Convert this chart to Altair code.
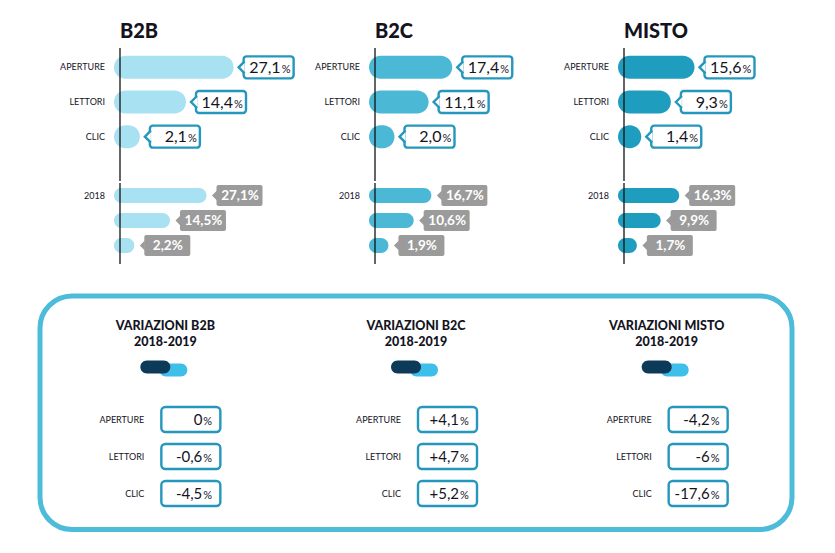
import altair as alt
import pandas as pd

FONT = "Lato"
INK = "#14141f"
TEAL = "#2597bd"
GRAY = "#9b9b9b"
BOX = "#4dbcd9"

metrics = ["APERTURE", "LETTORI", "CLIC"]
segments = ["B2B", "B2C", "MISTO"]

b2b_2019 = [27.1, 14.4, 2.1]
b2c_2019 = [17.4, 11.1, 2.0]
misto_2019 = [15.6, 9.3, 1.4]

b2b_2018 = [27.1, 14.5, 2.2]
b2c_2018 = [16.7, 10.6, 1.9]
misto_2018 = [16.3, 9.9, 1.7]

b2b_var = [0, -0.6, -4.5]
b2c_var = [4.1, 4.7, 5.2]
misto_var = [-4.2, -6, -17.6]

bar_colors = ["#a7e1f2", "#4bb9d5", "#1f9dbf"]
var_titles = ["VARIAZIONI B2B\n2018-2019", "VARIAZIONI B2C\n2018-2019", "VARIAZIONI MISTO\n2018-2019"]


def f1(v):
    return f"{v:.1f}".replace(".", ",")


def fvar(v):
    if v == 0:
        return "0"
    s = f"{abs(v):.1f}"
    if s.endswith(".0"):
        s = s[:-2]
    return ("+" if v > 0 else "-") + s.replace(".", ",")


H19 = 104
H18 = 75
GAP = 27
START = -4.8  # bar start (rounded cap) in value units
K19 = 3.75    # px per point, 2019
K18 = 2.9     # px per point, 2018


def top_column(seg, vals19, vals18, color, pad, W):
    d19 = pd.DataFrame({"metric": metrics, "value": vals19, "num": [f1(v) for v in vals19]})
    d18 = pd.DataFrame({"metric": metrics, "value": vals18, "label": [f1(v) + "%" for v in vals18]})

    sc19 = alt.Scale(domain=[START - pad / K19, START + W / K19], nice=False, zero=False)
    y19 = alt.Y("metric:N", sort=metrics, scale=alt.Scale(range=[0, H19], paddingInner=0, paddingOuter=0),
                axis=None)
    b19 = alt.Chart(d19).transform_calculate(start=str(START)).encode(y=y19)

    bars19 = b19.mark_bar(height=23, cornerRadius=11.5, color=color).encode(
        x=alt.X("value:Q", scale=sc19, axis=None), x2="start:Q")
    rule19 = b19.transform_filter("datum.metric == 'APERTURE'").mark_rule(
        color="#111", strokeWidth=1.3, xOffset=6).encode(
        x="start:Q", y=alt.value(-2), y2=alt.value(H19 + GAP))
    labels19 = b19.mark_text(align="right", baseline="middle", font=FONT, fontSize=9, color=INK,
                             xOffset=-9).encode(x="start:Q", text="metric:N")
    box19 = b19.mark_bar(height=22, cornerRadius=3, fill="white", stroke=TEAL, strokeWidth=2.4,
                         xOffset=10, x2Offset=60).encode(x="value:Q", x2="value:Q")
    ptr19 = b19.mark_point(shape="M 0 -1 L -1 0 L 0 1", size=144, filled=True, color="white",
                           stroke=TEAL, strokeWidth=2.4, opacity=1, xOffset=11).encode(x="value:Q")
    num19 = b19.mark_text(align="right", baseline="alphabetic", dy=5.8, font=FONT, fontSize=16,
                          color=INK, xOffset=47).encode(x="value:Q", text="num:N")
    pct19 = b19.mark_text(align="left", baseline="alphabetic", dy=5.8, font=FONT, fontSize=11,
                          color=INK, xOffset=48).encode(x="value:Q", text=alt.value("%"))
    c19 = alt.layer(bars19, rule19, labels19, box19, ptr19, num19, pct19).properties(
        width=pad + W, height=H19 + GAP,
        title=alt.TitleParams(seg, anchor="start", dx=pad + 6, fontSize=20, font=FONT, fontWeight=900,
                              color=INK, baseline="alphabetic", offset=-11))

    sc18 = alt.Scale(domain=[START - pad / K18, START + W / K18], nice=False, zero=False)
    y18 = alt.Y("metric:N", sort=metrics, scale=alt.Scale(paddingInner=0, paddingOuter=0), axis=None)
    b18 = alt.Chart(d18).transform_calculate(start=str(START)).encode(y=y18)
    bars18 = b18.mark_bar(height=15, cornerRadius=7.5, color=color).encode(
        x=alt.X("value:Q", scale=sc18, axis=None), x2="start:Q")
    rule18 = b18.transform_filter("datum.metric == 'APERTURE'").mark_rule(
        color="#111", strokeWidth=1.3, xOffset=6).encode(
        x="start:Q", y=alt.value(0), y2=alt.value(H18 + 6))
    label18 = b18.transform_filter("datum.metric == 'APERTURE'").mark_text(
        align="right", baseline="middle", font=FONT, fontSize=9, color=INK, xOffset=-9).encode(
        x="start:Q", text=alt.value("2018"))
    box18 = b18.mark_bar(height=21, cornerRadius=2, color=GRAY, xOffset=10, x2Offset=56).encode(
        x="value:Q", x2="value:Q")
    ptr18 = b18.mark_point(shape="M 0 -1 L -1 0 L 0 1", size=100, filled=True, color=GRAY,
                           opacity=1, xOffset=10.5).encode(x="value:Q")
    txt18 = b18.mark_text(align="center", baseline="middle", font=FONT, fontSize=13.5, fontWeight="bold",
                          color="white", xOffset=33.5, dy=0.5).encode(x="value:Q", text="label:N")
    c18 = alt.layer(bars18, rule18, label18, box18, ptr18, txt18).properties(width=pad + W, height=H18)

    return alt.vconcat(c19, c18, spacing=0)


top = alt.hconcat(
    top_column("B2B", b2b_2019, b2b_2018, bar_colors[0], 74, 191),
    top_column("B2C", b2c_2019, b2c_2018, bar_colors[1], 60, 185),
    top_column("MISTO", misto_2019, misto_2018, bar_colors[2], 60, 185),
    spacing=4,
)

# ---- bottom box ----
rows = []
for seg, vals in zip(segments, [b2b_var, b2c_var, misto_var]):
    for m, v in zip(metrics, vals):
        rows.append({"seg": seg, "metric": m, "num": fvar(v)})
bdf = pd.DataFrame(rows)
tdf = pd.DataFrame({"seg": segments, "title": var_titles})

xb = alt.X("seg:N", sort=segments, scale=alt.Scale(paddingInner=0, paddingOuter=0), axis=None)
yb = alt.Y("metric:N", sort=metrics, scale=alt.Scale(range=[105, 216], paddingInner=0, paddingOuter=0), axis=None)

titles = alt.Chart(tdf).mark_text(font=FONT, fontSize=12.5, fontWeight=900, lineBreak="\n",
                                  lineHeight=16.5, baseline="alphabetic", color=INK).encode(
    x=xb, y=alt.value(33.5), text="title:N")
tog_light = alt.Chart(tdf).mark_bar(width=28, cornerRadius=6.5, color="#3dbfea", xOffset=8).encode(
    x=xb, y=alt.value(67.5), y2=alt.value(80.5))
tog_dark = alt.Chart(tdf).mark_bar(width=30, cornerRadius=6.5, color="#0c3a58", xOffset=-10).encode(
    x=xb, y=alt.value(64.5), y2=alt.value(77.5))

group_layers = []
for seg, shift in zip(segments, [-6, 0, 0]):
    bb = alt.Chart(bdf).transform_filter(f"datum.seg == '{seg}'").encode(x=xb, y=yb)
    group_layers += [
        bb.mark_text(align="right", baseline="middle", font=FONT, fontSize=9, color=INK,
                     xOffset=-15 + shift).encode(text="metric:N"),
        bb.mark_bar(width=59, height=25, xOffset=31.5 + shift, cornerRadius=4, fill="white", stroke=TEAL,
                    strokeWidth=2.4),
        bb.mark_text(align="right", baseline="alphabetic", dy=5.5, font=FONT, fontSize=15, color=INK,
                     xOffset=43 + shift).encode(text="num:N"),
        bb.mark_text(align="left", baseline="alphabetic", dy=5.5, font=FONT, fontSize=11, color=INK,
                     xOffset=44 + shift).encode(text=alt.value("%")),
    ]

bottom = alt.layer(titles, tog_light, tog_dark, *group_layers).properties(
    width=752, height=233.5,
    view=alt.ViewBackground(stroke=BOX, strokeWidth=5, strokeOpacity=1, cornerRadius=32, fill="white"))

chart = alt.vconcat(top, bottom, spacing=28).properties(
    padding={"left": 29, "top": 14, "right": 0, "bottom": 0}, background="white"
).configure_view(stroke=None)

chart.save("out.html", embed_options={"renderer": "svg", "actions": False})
